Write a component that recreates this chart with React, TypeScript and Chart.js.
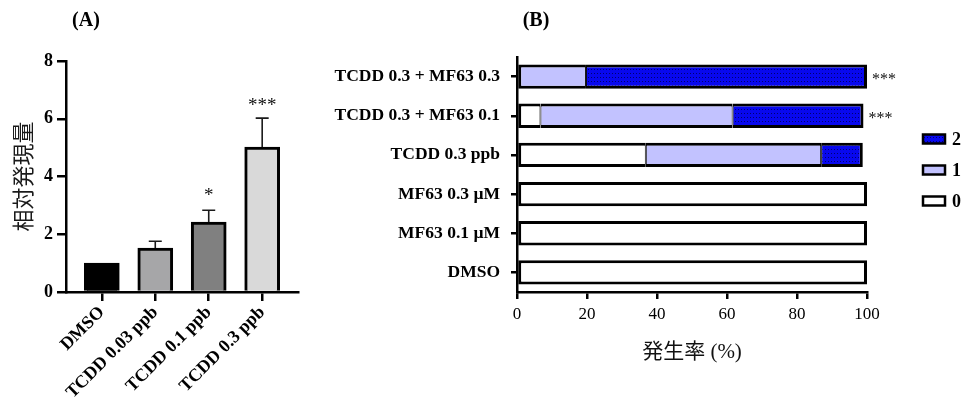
import React, { useEffect, useRef } from "react";
import { Chart, registerables } from "chart.js";

Chart.register(...registerables);

// ---------- Data: panel A ----------
const catsA = ["DMSO", "TCDD 0.03 ppb", "TCDD 0.1 ppb", "TCDD 0.3 ppb"];
const meanA = [1.0, 1.52, 2.42, 5.02];
const semA = [0, 0.24, 0.41, 1.0];
const sigA = ["", "", "*", "***"];
const fillA = ["#000000", "#a6a6a8", "#808080", "#d9d9d9"];
const ticksA = [0, 2, 4, 6, 8];

// ---------- Data: panel B ----------
const catsB = [
  "TCDD 0.3 + MF63 0.3",
  "TCDD 0.3 + MF63 0.1",
  "TCDD 0.3 ppb",
  "MF63 0.3 \u00b5M",
  "MF63 0.1 \u00b5M",
  "DMSO",
];
const score0 = [0, 6.7, 36.8, 100, 100, 100];
const score1 = [19.7, 54.9, 50.1, 0, 0, 0];
const score2 = [80.3, 37.4, 11.9, 0, 0, 0];
const sigB = ["***", "***", "", "", "", ""];
const scoreLabels = ["0", "1", "2"];

const SERIF = '"Liberation Serif", "Times New Roman", serif';
const CJK = '"Noto Sans CJK JP", "Noto Sans", sans-serif';
const MIXED = '"Liberation Serif", "Noto Sans CJK JP", serif';

const BLUE = "#0808ee";
const DOT = "#00006e";
const LAV = "#c2c2ff";

function makeDotPattern(): CanvasPattern | string {
  const c = document.createElement("canvas");
  c.width = 3;
  c.height = 4;
  const g = c.getContext("2d");
  if (!g) return BLUE;
  g.fillStyle = BLUE;
  g.fillRect(0, 0, 3, 4);
  g.fillStyle = DOT;
  g.fillRect(1, 1, 1, 1);
  return g.createPattern(c, "repeat") || BLUE;
}

function ChartA() {
  const ref = useRef<HTMLCanvasElement | null>(null);
  useEffect(() => {
    if (!ref.current) return;
    const overlay = {
      id: "overlayA",
      afterDatasetsDraw(chart: any) {
        const { ctx, scales } = chart;
        const x = scales.x;
        const y = scales.y;
        ctx.save();
        ctx.strokeStyle = "#1a1a1a";
        ctx.lineWidth = 1.6;
        meanA.forEach((m, i) => {
          const px = x.getPixelForValue(i);
          const y0 = y.getPixelForValue(m);
          const y1 = y.getPixelForValue(m + semA[i]);
          if (semA[i] > 0) {
            ctx.beginPath();
            ctx.moveTo(px, y0);
            ctx.lineTo(px, y1);
            ctx.moveTo(px - 6.5, y1);
            ctx.lineTo(px + 6.5, y1);
            ctx.stroke();
          }
          if (sigA[i]) {
            ctx.fillStyle = "#111";
            ctx.font = `19px ${SERIF}`;
            ctx.textAlign = "center";
            ctx.textBaseline = "alphabetic";
            ctx.fillText(sigA[i], px, y1 - (sigA[i].length > 1 ? 7 : 9));
          }
        });
        ctx.fillStyle = "#000";
        ctx.font = `bold 20px ${SERIF}`;
        ctx.textAlign = "center";
        ctx.textBaseline = "middle";
        ctx.fillText("(A)", 86, 21);
        ctx.restore();
      },
    };
    const chart = new Chart(ref.current, {
      type: "bar",
      data: {
        datasets: [
          {
            data: meanA.map((v, i) => ({ x: i, y: v })),
            backgroundColor: fillA,
            borderColor: "#000",
            borderWidth: 3,
            barThickness: 35,
          } as any,
        ],
      },
      options: {
        animation: false,
        responsive: false,
        layout: { padding: { top: 61, right: 22, left: 0, bottom: 0 } },
        plugins: { legend: { display: false }, tooltip: { enabled: false } },
        scales: {
          x: {
            type: "linear",
            offset: false,
            min: -0.67,
            max: 3.67,
            afterBuildTicks: (s: any) => {
              s.ticks = catsA.map((_, i) => ({ value: i }));
            },
            afterFit: (s: any) => {
              s.height = 107;
            },
            ticks: {
              autoSkip: false,
              minRotation: 45,
              maxRotation: 45,
              padding: 1,
              color: "#000",
              font: { family: SERIF, weight: "bold", size: 18 },
              callback: (v: any) => catsA[v as number],
            },
            grid: {
              display: true,
              offset: false,
              drawOnChartArea: false,
              tickLength: 9,
              tickColor: "#000",
              tickWidth: 2.5,
              lineWidth: 2.5,
              color: "#000",
            },
            border: { display: true, color: "#000", width: 2.5 },
          } as any,
          y: {
            min: 0,
            max: 8,
            afterBuildTicks: (s: any) => {
              s.ticks = ticksA.map((v) => ({ value: v }));
            },
            afterFit: (s: any) => {
              s.width = 66;
            },
            ticks: {
              padding: 4,
              color: "#000",
              font: { family: SERIF, weight: "bold", size: 18 },
            },
            grid: {
              display: true,
              drawOnChartArea: false,
              tickLength: 9,
              tickColor: "#000",
              tickWidth: 2.5,
              lineWidth: 2.5,
              color: "#000",
            },
            border: { display: true, color: "#000", width: 2.5 },
            title: {
              display: true,
              text: "相対発現量",
              color: "#1a1a1a",
              font: { family: CJK, size: 22 },
              padding: { top: 9, bottom: 0 },
            },
          } as any,
        },
      },
      plugins: [overlay],
    });
    return () => chart.destroy();
  }, []);
  return (
    <canvas
      ref={ref}
      width={320}
      height={399}
      style={{ position: "absolute", left: 0, top: 0, width: 320, height: 399 }}
    />
  );
}

function ChartB() {
  const ref = useRef<HTMLCanvasElement | null>(null);
  useEffect(() => {
    if (!ref.current) return;
    const pattern = makeDotPattern();
    const rows = [score0, score1, score2];
    const fills: any[] = ["#ffffff", LAV, pattern];
    const bw = (ctx: any) => {
      const d = ctx.datasetIndex;
      const i = ctx.dataIndex;
      const v = rows[d][i];
      if (!v) return 0;
      let first = -1;
      let last = -1;
      rows.forEach((r, k) => {
        if (r[i] > 0) {
          if (first < 0) first = k;
          last = k;
        }
      });
      return { top: 3, bottom: 3, left: d === first ? 3 : 1, right: d === last ? 3 : 1 };
    };
    const overlay = {
      id: "overlayB",
      afterDatasetsDraw(chart: any) {
        const { ctx, scales } = chart;
        const x = scales.x;
        const y = scales.y;
        ctx.save();
        ctx.fillStyle = "#111";
        ctx.font = `16px ${SERIF}`;
        ctx.textAlign = "left";
        ctx.textBaseline = "alphabetic";
        sigB.forEach((s, i) => {
          if (!s) return;
          const total = score0[i] + score1[i] + score2[i];
          ctx.fillText(s, x.getPixelForValue(total) + 5, y.getPixelForValue(i) + 7);
        });
        const lx = chart.chartArea.right + 56;
        const cy = 170;
        [2, 1, 0].forEach((k, j) => {
          const yy = cy + (j - 1) * 31;
          ctx.fillStyle = fills[k];
          ctx.fillRect(lx, yy - 4.5, 22, 9);
          ctx.strokeStyle = "#000";
          ctx.lineWidth = 2.5;
          ctx.strokeRect(lx, yy - 4.5, 22, 9);
          ctx.fillStyle = "#000";
          ctx.font = `bold 18px ${SERIF}`;
          ctx.textAlign = "left";
          ctx.textBaseline = "middle";
          ctx.fillText(scoreLabels[k], lx + 29, yy + 1);
        });
        ctx.fillStyle = "#000";
        ctx.font = `bold 20px ${SERIF}`;
        ctx.textAlign = "center";
        ctx.textBaseline = "middle";
        ctx.fillText("(B)", 216, 21);
        ctx.restore();
      },
    };
    const chart = new Chart(ref.current, {
      type: "bar",
      data: {
        labels: catsB,
        datasets: rows.map((r, k) => ({
          label: scoreLabels[k],
          data: r,
          backgroundColor: fills[k],
          borderColor: "#000",
          borderSkipped: false,
          borderWidth: bw,
          barPercentage: 0.62,
          categoryPercentage: 1,
        })) as any,
      },
      options: {
        indexAxis: "y",
        animation: false,
        responsive: false,
        layout: { padding: { top: 57, right: 103, left: 0, bottom: 0 } },
        plugins: { legend: { display: false }, tooltip: { enabled: false } },
        scales: {
          x: {
            stacked: true,
            min: 0,
            max: 100,
            afterFit: (s: any) => {
              s.height = 107;
            },
            ticks: {
              stepSize: 20,
              padding: 5,
              color: "#000",
              font: { family: SERIF, size: 17 },
            },
            grid: {
              display: true,
              drawOnChartArea: false,
              tickLength: 7,
              tickColor: "#000",
              tickWidth: 2.5,
              lineWidth: 2.5,
              color: "#000",
            },
            border: { display: true, color: "#000", width: 2.5 },
            title: {
              display: true,
              text: "発生率 (%)",
              color: "#111",
              font: { family: MIXED, size: 21 },
              padding: { top: 0, bottom: 34 },
            },
          } as any,
          y: {
            stacked: true,
            afterFit: (s: any) => {
              s.width = 197;
            },
            ticks: {
              padding: 11,
              color: "#000",
              font: { family: SERIF, weight: "bold", size: 17.5 },
            },
            grid: {
              display: true,
              offset: false,
              drawOnChartArea: false,
              tickLength: 6,
              tickColor: "#000",
              tickWidth: 2.5,
              lineWidth: 2.5,
              color: "#000",
            },
            border: { display: true, color: "#000", width: 2.5 },
          } as any,
        },
      },
      plugins: [overlay],
    });
    return () => chart.destroy();
  }, []);
  return (
    <canvas
      ref={ref}
      width={650}
      height={399}
      style={{ position: "absolute", left: 320, top: 0, width: 650, height: 399 }}
    />
  );
}

export default function App() {
  return (
    <div
      style={{
        position: "absolute",
        left: 0,
        top: 0,
        width: 970,
        height: 399,
        background: "#fff",
        overflow: "hidden",
      }}
    >
      <ChartA />
      <ChartB />
    </div>
  );
}
